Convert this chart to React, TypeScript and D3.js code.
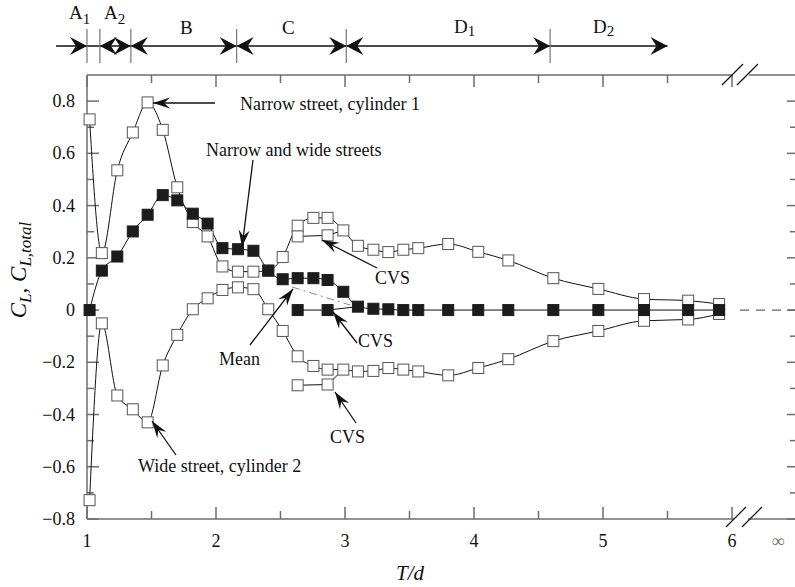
import React from "react";
import * as d3 from "d3";

// Gap ratio T/d at each measured station
const gapRatio = [
  1.02, 1.115, 1.235, 1.355, 1.47, 1.587, 1.7, 1.82, 1.935, 2.05, 2.17, 2.29,
  2.405, 2.517, 2.633, 2.755, 2.865, 2.987, 3.1, 3.22, 3.336, 3.452, 3.568,
  3.8, 4.033, 4.266, 4.615, 4.964, 5.318, 5.66, 5.9,
];
// Lift coefficient on cylinder 1 (narrow street side)
const narrowCyl1 = [
  0.73, 0.218, 0.535, 0.68, 0.795, 0.69, 0.47, 0.337, 0.282, 0.167, 0.147,
  0.147, 0.151, 0.203, 0.323, 0.353, 0.353, 0.305, 0.246, 0.231, 0.222, 0.231,
  0.237, 0.253, 0.223, 0.19, 0.122, 0.081, 0.042, 0.036, 0.023,
];
// Lift coefficient on cylinder 2 (wide street side)
const wideCyl2 = [
  -0.728, -0.051, -0.327, -0.38, -0.43, -0.212, -0.095, 0.003, 0.045, 0.077,
  0.087, 0.08, 0.003, -0.08, -0.177, -0.214, -0.228, -0.228, -0.235, -0.233,
  -0.222, -0.228, -0.235, -0.25, -0.222, -0.188, -0.119, -0.08, -0.041, -0.036,
  -0.015,
];
// Total (mean) lift coefficient
const meanTotal = [
  0, 0.151, 0.205, 0.301, 0.365, 0.44, 0.42, 0.369, 0.331, 0.237, 0.233, 0.227,
  0.151, 0.118, 0.122, 0.122, 0.115, 0.07, 0.013, 0.005, 0.003, 0, 0, 0, 0, 0,
  0, 0, 0, 0, 0,
];
// CVS (co-shedding vortex street) branches and where each rejoins the main curve
const cvsGap = [2.633, 2.865];
const cvsNarrow = [0.282, 0.286];
const cvsWide = [-0.288, -0.285];
const cvsMean = [0, 0];
const cvsJoinNarrow = 17;
const cvsJoinWide = 17;
const cvsJoinMean = 18;

const xTicks = [1, 2, 3, 4, 5, 6];
const xMinorTicks = [1.5, 2.5, 3.5, 4.5, 5.5];
const yTicks = [-0.8, -0.6, -0.4, -0.2, 0, 0.2, 0.4, 0.6, 0.8];
const yMinorTicks = [-0.7, -0.5, -0.3, -0.1, 0.1, 0.3, 0.5, 0.7];

// Flow regimes along the top: boundaries in T/d
const regimeBounds = [1.0, 1.1, 1.34, 2.16, 3.01, 4.59];
const regimeEnd = 5.5;
const regimeStart = 0.76;

const W = 795;
const H = 587;
const left = 87;
const right = 795;
const top = 75;
const bottom = 519;

const x = d3.scaleLinear().domain([1, 6]).range([left, 732]);
const y = d3.scaleLinear().domain([-0.8, 0.9]).range([bottom, top]);
const xInf = 778;

const serif = "'Liberation Serif', 'DejaVu Serif', serif";
const axisColor = "#6e6e6e";

type Pt = [number, number];
const lineGen = d3
  .line<Pt>()
  .x((d) => x(d[0]))
  .y((d) => y(d[1]))
  .curve(d3.curveMonotoneX);
const straight = d3
  .line<Pt>()
  .x((d) => x(d[0]))
  .y((d) => y(d[1]));

const zip = (xs: number[], ys: number[]): Pt[] => xs.map((v, i) => [v, ys[i]]);

// Notched arrowhead pointing from (x1,y1) toward tip (x2,y2)
function arrowHead(x1: number, y1: number, x2: number, y2: number, L = 16, Wd = 10) {
  const a = Math.atan2(y2 - y1, x2 - x1);
  const c = Math.cos(a);
  const s = Math.sin(a);
  const p = (u: number, v: number) => [x2 + u * c - v * s, y2 + u * s + v * c];
  const b1 = p(-L, Wd / 2);
  const b2 = p(-L, -Wd / 2);
  const n = p(-L * 0.65, 0);
  return `M${x2},${y2}L${b1[0]},${b1[1]}L${n[0]},${n[1]}L${b2[0]},${b2[1]}Z`;
}

function Arrow({ x1, y1, x2, y2 }: { x1: number; y1: number; x2: number; y2: number }) {
  return (
    <g>
      <line x1={x1} y1={y1} x2={x2} y2={y2} stroke="#111" strokeWidth={1.3} />
      <path d={arrowHead(x1, y1, x2, y2, 17, 11)} fill="#111" />
    </g>
  );
}

function Squares({ pts, filled }: { pts: Pt[]; filled: boolean }) {
  const s = 11;
  return (
    <g>
      {pts.map((d, i) => (
        <rect
          key={i}
          x={x(d[0]) - s / 2}
          y={y(d[1]) - s / 2}
          width={s}
          height={s}
          fill={filled ? "#1c1c1c" : "#fff"}
          stroke={filled ? "#1c1c1c" : "#555"}
          strokeWidth={1}
        />
      ))}
    </g>
  );
}

export default function App() {
  const narrowPts = zip(gapRatio, narrowCyl1);
  const widePts = zip(gapRatio, wideCyl2);
  const meanPts = zip(gapRatio, meanTotal);
  const cvsNarrowPts = zip(cvsGap, cvsNarrow);
  const cvsWidePts = zip(cvsGap, cvsWide);
  const cvsMeanPts = zip(cvsGap, cvsMean);

  const barY = 46;
  const bx = regimeBounds.map((b) => x(b));
  const bEnd = x(regimeEnd);
  const bStart = x(regimeStart);
  const big = (x1: number, x2: number) => arrowHead(x1, barY, x2, barY, 17, 18);

  return (
    <svg
      width={W}
      height={H}
      style={{ position: "absolute", left: 0, top: 0, display: "block", background: "#fff" }}
      fontFamily={serif}
    >
      <rect width={W} height={H} fill="#fff" />

      {/* regime bar */}
      <line x1={bStart} y1={barY} x2={bEnd} y2={barY} stroke="#111" strokeWidth={1.3} />
      {bx.map((b, i) => (
        <line key={i} x1={b} y1={29} x2={b} y2={63} stroke="#777" strokeWidth={1.2} />
      ))}
      <path d={big(bStart, bx[0])} fill="#111" />
      <path d={big(bx[2], bx[1])} fill="#111" />
      <path d={big(bx[1], bx[2])} fill="#111" />
      <path d={big(bx[3], bx[2])} fill="#111" />
      <path d={big(bx[2], bx[3])} fill="#111" />
      <path d={big(bx[4], bx[3])} fill="#111" />
      <path d={big(bx[3], bx[4])} fill="#111" />
      <path d={big(bx[5], bx[4])} fill="#111" />
      <path d={big(bx[4], bx[5])} fill="#111" />
      <path d={big(bx[5], bEnd)} fill="#111" />
      <g fontSize={19} fill="#111">
        <text x={69} y={19}>
          A<tspan fontSize={15} dy={5}>1</tspan>
        </text>
        <text x={104} y={19}>
          A<tspan fontSize={15} dy={5}>2</tspan>
        </text>
        <text x={180} y={34}>B</text>
        <text x={282} y={34}>C</text>
        <text x={454} y={33}>
          D<tspan fontSize={15} dy={3}>1</tspan>
        </text>
        <text x={593} y={33}>
          D<tspan fontSize={15} dy={3}>2</tspan>
        </text>
      </g>

      {/* frame */}
      <g stroke={axisColor} strokeWidth={1.5} fill="none">
        <line x1={left} y1={top} x2={733} y2={top} />
        <line x1={749} y1={top} x2={right} y2={top} />
        <line x1={left} y1={bottom} x2={734} y2={bottom} />
        <line x1={748} y1={bottom} x2={right} y2={bottom} />
        <line x1={left} y1={top} x2={left} y2={bottom} />
        {xTicks.map((t) => (
          <g key={t}>
            <line x1={x(t)} y1={bottom} x2={x(t)} y2={bottom - 12} />
            <line x1={x(t)} y1={top} x2={x(t)} y2={top + 12} />
          </g>
        ))}
        {xMinorTicks.map((t) => (
          <g key={t}>
            <line x1={x(t)} y1={bottom} x2={x(t)} y2={bottom - 8} />
            <line x1={x(t)} y1={top} x2={x(t)} y2={top + 8} />
          </g>
        ))}
        {yTicks.map((t) => (
          <g key={t}>
            <line x1={left} y1={y(t)} x2={left + 12} y2={y(t)} />
            <line x1={right} y1={y(t)} x2={right - 8} y2={y(t)} />
          </g>
        ))}
        {yMinorTicks.map((t) => (
          <g key={t}>
            <line x1={left} y1={y(t)} x2={left + 7} y2={y(t)} />
            <line x1={right} y1={y(t)} x2={right - 5} y2={y(t)} />
          </g>
        ))}
      </g>
      {/* axis break marks */}
      <g stroke="#111" strokeWidth={1.2}>
        <line x1={722} y1={85} x2={743} y2={64} />
        <line x1={737} y1={85} x2={758} y2={64} />
        <line x1={726} y1={527} x2={746} y2={507} />
        <line x1={742} y1={527} x2={762} y2={507} />
      </g>
      {/* asymptote at infinite spacing */}
      <line
        x1={740}
        y1={y(0)}
        x2={right}
        y2={y(0)}
        stroke="#666"
        strokeWidth={1.3}
        strokeDasharray="9,7"
      />

      {/* tick labels */}
      <g fontSize={18} fill="#111">
        {xTicks.map((t) => (
          <text key={t} x={x(t)} y={547} textAnchor="middle">
            {t}
          </text>
        ))}
        <text x={xInf} y={547} textAnchor="middle" fill="#777">
          ∞
        </text>
        {yTicks.map((t) => (
          <text key={t} x={75} y={y(t) + 6} textAnchor="end">
            {t === 0 ? "0" : d3.format(".1f")(t).replace("-", "−")}
          </text>
        ))}
      </g>

      {/* axis titles */}
      <text x={410} y={580} fontSize={21} fontStyle="italic" textAnchor="middle" fill="#111">
        T/d
      </text>
      <text
        transform="translate(26,270) rotate(-90)"
        fontSize={23}
        fontStyle="italic"
        textAnchor="middle"
        fill="#111"
      >
        C<tspan fontSize={17} dy={5}>L</tspan>
        <tspan dy={-5}>, C</tspan>
        <tspan fontSize={17} dy={5}>L,total</tspan>
      </text>

      {/* curves */}
      <g fill="none" stroke="#111" strokeWidth={1}>
        <path d={lineGen(narrowPts) ?? ""} />
        <path d={lineGen(widePts) ?? ""} />
        <path d={lineGen(meanPts) ?? ""} />
        <path d={straight([...cvsNarrowPts, narrowPts[cvsJoinNarrow]]) ?? ""} />
        <path d={straight([...cvsWidePts, widePts[cvsJoinWide]]) ?? ""} />
        <path d={straight([...cvsMeanPts, meanPts[cvsJoinMean]]) ?? ""} />
      </g>
      <line x1={292} y1={287} x2={350} y2={305} stroke="#888" strokeWidth={1} strokeDasharray="8,4,2,4" />

      <Squares pts={narrowPts} filled={false} />
      <Squares pts={widePts} filled={false} />
      <Squares pts={cvsNarrowPts} filled={false} />
      <Squares pts={cvsWidePts} filled={false} />
      <Squares pts={meanPts} filled={true} />
      <Squares pts={cvsMeanPts} filled={true} />

      {/* annotations */}
      <g fontSize={18} fill="#111">
        <text x={240} y={110}>Narrow street, cylinder 1</text>
        <text x={206} y={156}>Narrow and wide streets</text>
        <text x={375} y={284}>CVS</text>
        <text x={358} y={347}>CVS</text>
        <text x={330} y={443}>CVS</text>
        <text x={219} y={365}>Mean</text>
        <text x={138} y={472}>Wide street, cylinder 2</text>
      </g>
      <Arrow x1={215} y1={103} x2={153} y2={103} />
      <Arrow x1={253} y1={160} x2={242} y2={247} />
      <Arrow x1={377} y1={268} x2={322} y2={240} />
      <Arrow x1={357} y1={343} x2={333} y2={312} />
      <Arrow x1={356} y1={423} x2={335} y2={392} />
      <Arrow x1={250} y1={345} x2={293} y2={289} />
      <Arrow x1={176} y1={455} x2={152} y2={421} />
    </svg>
  );
}
